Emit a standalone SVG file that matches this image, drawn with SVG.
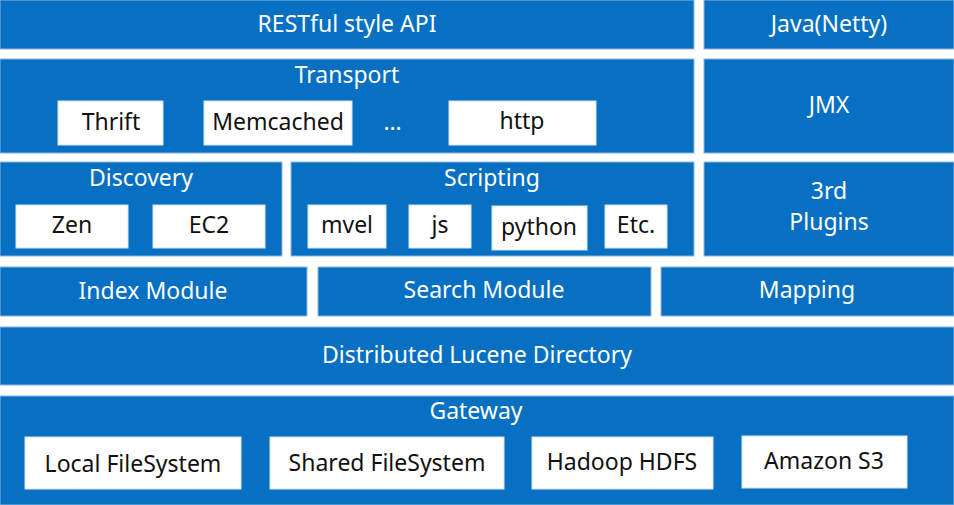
<svg xmlns="http://www.w3.org/2000/svg" width="954" height="505" viewBox="0 0 954 505">
<style>
.b{fill:#0770c2;stroke:#8fb6e0;stroke-width:1}
.w{fill:#ffffff;stroke:#d8e4f0;stroke-width:1}
.t{font-family:"Noto Sans","Open Sans","Liberation Sans",sans-serif;font-size:23px;text-anchor:middle}
.tw{fill:#ffffff}
.tb{fill:#111111}
</style>
<rect x="0" y="0" width="954" height="505" fill="#ffffff"/>
<g id="restful"><rect class="b" x="0" y="0" width="694" height="49"/><text class="t tw" x="347" y="32">RESTful style API</text></g>
<g id="java"><rect class="b" x="704" y="0" width="250" height="49"/><text class="t tw" x="829" y="32">Java(Netty)</text></g>
<g id="transport"><rect class="b" x="0" y="59" width="694" height="94"/><text class="t tw" x="347" y="83">Transport</text></g>
<g id="thrift"><rect class="w" x="58" y="101" width="105" height="44"/><text class="t tb" x="111" y="130">Thrift</text></g>
<g id="memcached"><rect class="w" x="204" y="101" width="148" height="44"/><text class="t tb" x="278" y="130">Memcached</text></g>
<g id="ellipsis"><text class="t tw" x="393" y="130" letter-spacing="1">…</text></g>
<g id="http"><rect class="w" x="449" y="101" width="147" height="44"/><text class="t tb" x="522" y="129">http</text></g>
<g id="jmx"><rect class="b" x="704" y="59" width="250" height="94"/><text class="t tw" x="829" y="113">JMX</text></g>
<g id="discovery"><rect class="b" x="0" y="162" width="282" height="94"/><text class="t tw" x="141" y="186">Discovery</text></g>
<g id="zen"><rect class="w" x="16" y="205" width="112" height="43"/><text class="t tb" x="72" y="233">Zen</text></g>
<g id="ec2"><rect class="w" x="153" y="205" width="112" height="43"/><text class="t tb" x="209" y="233">EC2</text></g>
<g id="scripting"><rect class="b" x="291" y="162" width="403" height="94"/><text class="t tw" x="492" y="186">Scripting</text></g>
<g id="mvel"><rect class="w" x="308" y="205" width="78" height="43"/><text class="t tb" x="347" y="233">mvel</text></g>
<g id="js"><rect class="w" x="409" y="205" width="62" height="43"/><text class="t tb" x="440" y="233">js</text></g>
<g id="python"><rect class="w" x="492" y="206" width="95" height="44"/><text class="t tb" x="539" y="235">python</text></g>
<g id="etc"><rect class="w" x="605" y="205" width="62" height="43"/><text class="t tb" x="636" y="233">Etc.</text></g>
<g id="plugins"><rect class="b" x="704" y="162" width="250" height="94"/><text class="t tw" x="829" y="199">3rd</text><text class="t tw" x="829" y="230">Plugins</text></g>
<g id="index"><rect class="b" x="0" y="267" width="307" height="49"/><text class="t tw" x="153" y="299">Index Module</text></g>
<g id="search"><rect class="b" x="318" y="267" width="333" height="49"/><text class="t tw" x="484" y="298">Search Module</text></g>
<g id="mapping"><rect class="b" x="661" y="267" width="293" height="49"/><text class="t tw" x="807" y="298">Mapping</text></g>
<g id="lucene"><rect class="b" x="0" y="327" width="954" height="58"/><text class="t tw" x="477" y="363">Distributed Lucene Directory</text></g>
<g id="gateway"><rect class="b" x="0" y="396" width="954" height="109"/><text class="t tw" x="476" y="419">Gateway</text></g>
<g id="localfs"><rect class="w" x="25" y="437" width="216" height="52"/><text class="t tb" x="133" y="472">Local FileSystem</text></g>
<g id="sharedfs"><rect class="w" x="270" y="437" width="234" height="52"/><text class="t tb" x="387" y="471">Shared FileSystem</text></g>
<g id="hdfs"><rect class="w" x="532" y="437" width="181" height="52"/><text class="t tb" x="622" y="470">Hadoop HDFS</text></g>
<g id="s3"><rect class="w" x="742" y="436" width="165" height="52"/><text class="t tb" x="824" y="469">Amazon S3</text></g>
<g id="connectors"></g>
</svg>
